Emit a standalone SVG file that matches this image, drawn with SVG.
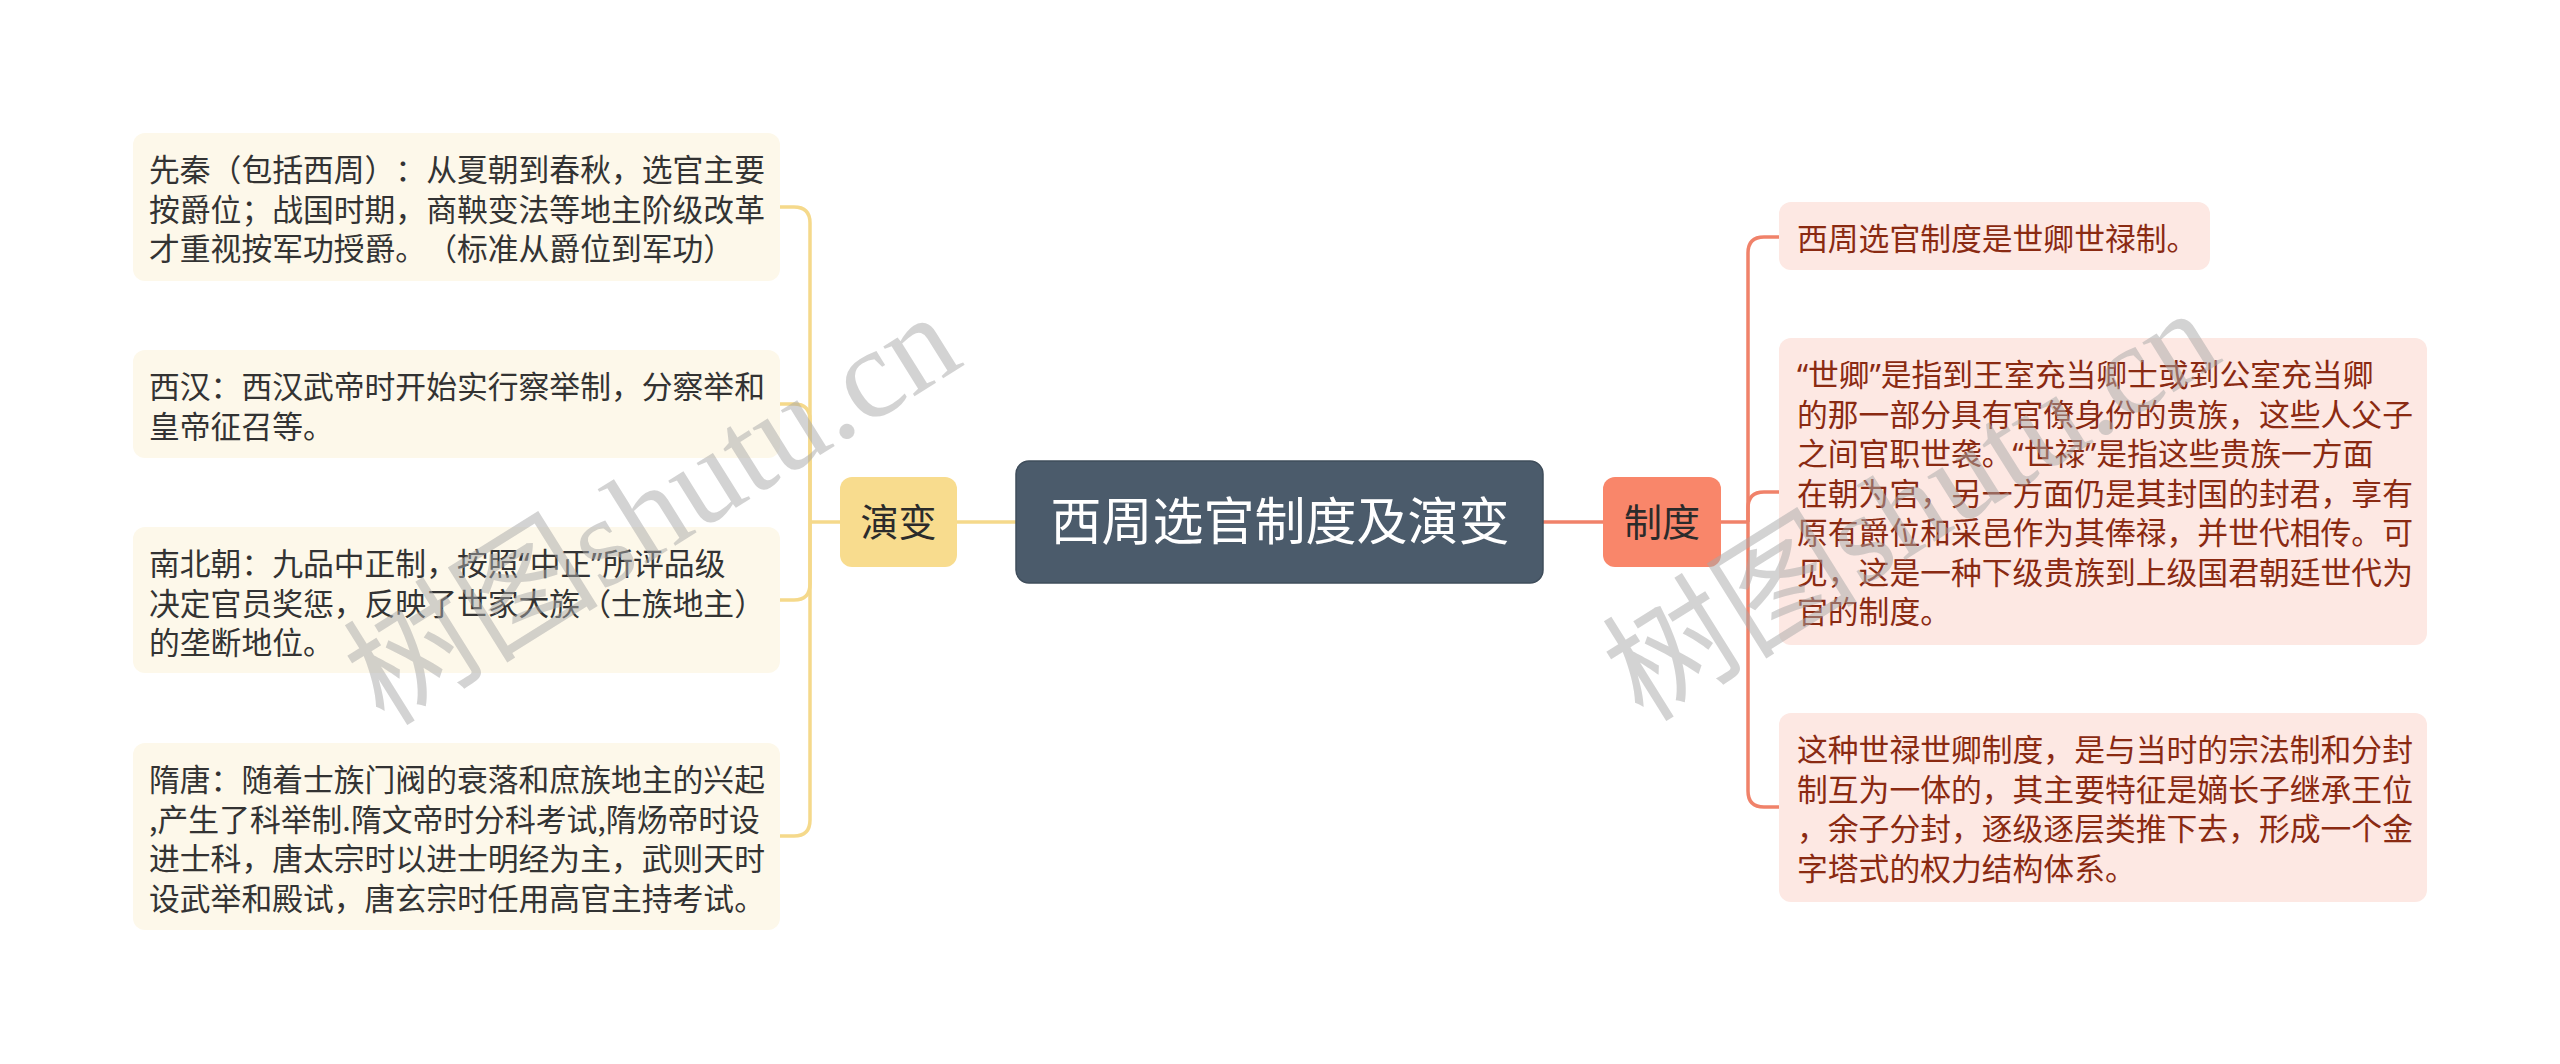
<svg xmlns="http://www.w3.org/2000/svg" width="2560" height="1064" viewBox="0 0 2560 1064">
<style>
text{font-family:"Noto Sans CJK SC","Noto Sans",sans-serif;text-spacing-trim:space-all;font-feature-settings:"fwid" 0;}
.q{font-family:"Noto Sans","Liberation Sans",sans-serif;}
.lf rect{fill:#fdf8ea;}
.lf text{font-size:30.8px;fill:#333333;}
.rt rect{fill:#fde8e3;}
.rt text{font-size:30.8px;fill:#8a2a12;}
.cy{fill:none;stroke:#f5d98b;stroke-width:3.5;}
.co{fill:none;stroke:#f0826a;stroke-width:3.5;}
.wm{font-family:"Liberation Serif","Noto Sans CJK SC",serif;font-size:128px;fill:#a8a8a8;fill-opacity:0.5;}
</style>
<rect width="2560" height="1064" fill="#ffffff"/>
<g id="connectors">
<path class="cy" d="M1016 522 L957 522"/>
<path class="cy" d="M840 522 L810 522"/>
<path class="cy" d="M810 522 L810 223 Q810 207 794 207 L780 207"/>
<path class="cy" d="M810 522 L810 420 Q810 404 794 404 L780 404"/>
<path class="cy" d="M810 522 L810 584 Q810 600 794 600 L780 600"/>
<path class="cy" d="M810 522 L810 820 Q810 836 794 836 L780 836"/>
<path class="co" d="M1543 522 L1603 522"/>
<path class="co" d="M1721 522 L1748 522"/>
<path class="co" d="M1748 522 L1748 253 Q1748 237 1764 237 L1779 237"/>
<path class="co" d="M1748 522 L1748 508 Q1748 492 1764 492 L1779 492"/>
<path class="co" d="M1748 522 L1748 791 Q1748 807 1764 807 L1779 807"/>
</g>
<g id="center">
<rect x="1016" y="461" width="527" height="122" rx="13" fill="#4b5b6b" stroke="#3f4d5b" stroke-width="1.5"/>
<text x="1280" y="540" text-anchor="middle" font-size="51" fill="#ffffff">西周选官制度及演变</text>
</g>
<g id="yanbian">
<rect x="840" y="477" width="117" height="90" rx="12" fill="#f8dc8e"/>
<text x="898.5" y="536" text-anchor="middle" font-size="38" fill="#2b2b2b">演变</text>
</g>
<g id="zhidu">
<rect x="1603" y="477" width="118" height="90" rx="12" fill="#f9866a"/>
<text x="1662" y="536" text-anchor="middle" font-size="38" fill="#2b2b2b">制度</text>
</g>
<g id="leaf1" class="lf">
<rect x="133" y="133" width="647" height="148" rx="12"/>
<text x="149" y="181">先秦（包括西周）：从夏朝到春秋，选官主要</text>
<text x="149" y="220.5">按爵位；战国时期，商鞅变法等地主阶级改革</text>
<text x="149" y="260">才重视按军功授爵。（标准从爵位到军功）</text>
</g>
<g id="leaf2" class="lf">
<rect x="133" y="350" width="647" height="108" rx="12"/>
<text x="149" y="398">西汉：西汉武帝时开始实行察举制，分察举和</text>
<text x="149" y="437.5">皇帝征召等。</text>
</g>
<g id="leaf3" class="lf">
<rect x="133" y="527" width="647" height="146" rx="12"/>
<text x="149" y="575">南北朝：九品中正制，按照<tspan class="q">“</tspan>中正<tspan class="q">”</tspan>所评品级</text>
<text x="149" y="614.5">决定官员奖惩，反映了世家大族（士族地主）</text>
<text x="149" y="654">的垄断地位。</text>
</g>
<g id="leaf4" class="lf">
<rect x="133" y="743" width="647" height="187" rx="12"/>
<text x="149" y="791">隋唐：随着士族门阀的衰落和庶族地主的兴起</text>
<text x="149" y="830.5">,产生了科举制.隋文帝时分科考试,隋炀帝时设</text>
<text x="149" y="870">进士科，唐太宗时以进士明经为主，武则天时</text>
<text x="149" y="909.5">设武举和殿试，唐玄宗时任用高官主持考试。</text>
</g>
<g id="right1" class="rt">
<rect x="1779" y="202" width="431" height="68" rx="12"/>
<text x="1797" y="250">西周选官制度是世卿世禄制。</text>
</g>
<g id="right2" class="rt">
<rect x="1779" y="338" width="648" height="307" rx="12"/>
<text x="1797" y="386"><tspan class="q">“</tspan>世卿<tspan class="q">”</tspan>是指到王室充当卿士或到公室充当卿</text>
<text x="1797" y="425.5">的那一部分具有官僚身份的贵族，这些人父子</text>
<text x="1797" y="465">之间官职世袭。<tspan class="q">“</tspan>世禄<tspan class="q">”</tspan>是指这些贵族一方面</text>
<text x="1797" y="504.5">在朝为官，另一方面仍是其封国的封君，享有</text>
<text x="1797" y="544">原有爵位和采邑作为其俸禄，并世代相传。可</text>
<text x="1797" y="583.5">见，这是一种下级贵族到上级国君朝廷世代为</text>
<text x="1797" y="623">官的制度。</text>
</g>
<g id="right3" class="rt">
<rect x="1779" y="713" width="648" height="189" rx="12"/>
<text x="1797" y="761">这种世禄世卿制度，是与当时的宗法制和分封</text>
<text x="1797" y="800.5">制互为一体的，其主要特征是嫡长子继承王位</text>
<text x="1797" y="840">，余子分封，逐级逐层类推下去，形成一个金</text>
<text x="1797" y="879.5">字塔式的权力结构体系。</text>
</g>
<g id="watermark">
<text class="wm" x="653" y="552" text-anchor="middle" transform="rotate(-32 653 510)">树图shutu.cn</text>
<text class="wm" x="1912" y="548" text-anchor="middle" transform="rotate(-32 1912 506)">树图shutu.cn</text>
</g>
</svg>
